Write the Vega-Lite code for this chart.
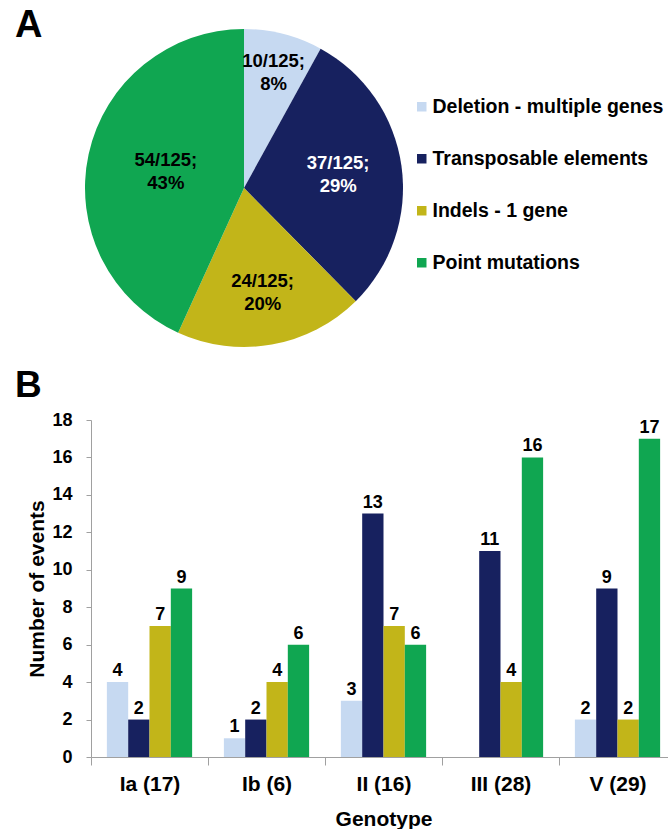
{
  "$schema": "https://vega.github.io/schema/vega-lite/v6.json",
  "padding": {"left": 15, "top": 7, "right": 0, "bottom": 0},
  "spacing": 20,
  "config": {
    "font": "Liberation Sans",
    "view": {"stroke": null},
    "title": {"font": "Liberation Sans", "fontWeight": "bold", "color": "black"},
    "axis": {"labelFont": "Liberation Sans", "titleFont": "Liberation Sans", "labelFontWeight": "bold", "titleFontWeight": "bold", "labelColor": "black", "titleColor": "black", "domainColor": "#A0A0A0", "tickColor": "#A0A0A0", "grid": false}
  },
  "datasets": {
    "pie": [
      {"type": "Deletion - multiple genes", "count": 10, "o": 1, "label": "10/125;\n8%"},
      {"type": "Transposable elements", "count": 37, "o": 2, "label": "37/125;\n29%"},
      {"type": "Indels - 1 gene", "count": 24, "o": 3, "label": "24/125;\n20%"},
      {"type": "Point mutations", "count": 54, "o": 4, "label": "54/125;\n43%"}
    ],
    "bars": [
      {"genotype": "Ia (17)", "type": "Deletion - multiple genes", "n": 4},
      {"genotype": "Ia (17)", "type": "Transposable elements", "n": 2},
      {"genotype": "Ia (17)", "type": "Indels - 1 gene", "n": 7},
      {"genotype": "Ia (17)", "type": "Point mutations", "n": 9},
      {"genotype": "Ib (6)", "type": "Deletion - multiple genes", "n": 1},
      {"genotype": "Ib (6)", "type": "Transposable elements", "n": 2},
      {"genotype": "Ib (6)", "type": "Indels - 1 gene", "n": 4},
      {"genotype": "Ib (6)", "type": "Point mutations", "n": 6},
      {"genotype": "II (16)", "type": "Deletion - multiple genes", "n": 3},
      {"genotype": "II (16)", "type": "Transposable elements", "n": 13},
      {"genotype": "II (16)", "type": "Indels - 1 gene", "n": 7},
      {"genotype": "II (16)", "type": "Point mutations", "n": 6},
      {"genotype": "III (28)", "type": "Deletion - multiple genes", "n": 0},
      {"genotype": "III (28)", "type": "Transposable elements", "n": 11},
      {"genotype": "III (28)", "type": "Indels - 1 gene", "n": 4},
      {"genotype": "III (28)", "type": "Point mutations", "n": 16},
      {"genotype": "V (29)", "type": "Deletion - multiple genes", "n": 2},
      {"genotype": "V (29)", "type": "Transposable elements", "n": 9},
      {"genotype": "V (29)", "type": "Indels - 1 gene", "n": 2},
      {"genotype": "V (29)", "type": "Point mutations", "n": 17}
    ]
  },
  "resolve": {"scale": {"color": "independent"}},
  "vconcat": [
    {
      "width": 306,
      "height": 318,
      "title": {"text": "A", "anchor": "start", "frame": "group", "dx": -76, "fontSize": 38, "offset": -46, "baseline": "alphabetic"},
      "data": {"name": "pie"},
      "layer": [
        {
          "mark": {"type": "arc", "outerRadius": 159},
          "encoding": {
            "theta": {"field": "count", "type": "quantitative", "stack": true},
            "order": {"field": "o", "type": "quantitative"},
            "color": {
              "field": "type", "type": "nominal",
              "scale": {"domain": ["Deletion - multiple genes", "Transposable elements", "Indels - 1 gene", "Point mutations"], "range": ["#C6D9F1", "#17215F", "#C2B519", "#10A651"]},
              "legend": {"title": null, "orient": "none", "legendX": 321, "legendY": 68, "padding": 0, "symbolType": "square", "symbolSize": 90, "symbolStrokeWidth": 0, "labelFont": "Liberation Sans", "labelFontWeight": "bold", "labelFontSize": 19.5, "labelColor": "black", "labelOffset": 1, "labelLimit": 400, "rowPadding": 31}
            }
          }
        },
        {
          "mark": {"type": "text", "dy": -11.5, "fontSize": 18.5, "fontWeight": "bold", "lineBreak": "\n", "lineHeight": 23, "baseline": "middle", "align": "center"},
          "encoding": {
            "theta": {"field": "count", "type": "quantitative", "stack": true},
            "radius": {"field": "count", "type": "quantitative", "scale": {"type": "linear", "zero": false, "domain": [10, 54], "range": [119, 80]}},
            "order": {"field": "o", "type": "quantitative"},
            "text": {"field": "label", "type": "nominal"},
            "color": {"condition": {"test": "datum.o === 2", "value": "white"}, "value": "black"}
          }
        }
      ]
    },
    {
      "width": 585,
      "height": 337,
      "title": {"text": "B", "anchor": "start", "frame": "group", "dx": -76, "fontSize": 37, "offset": -23, "baseline": "alphabetic"},
      "data": {"name": "bars"},
      "encoding": {
        "x": {"field": "genotype", "type": "nominal", "sort": null, "scale": {"paddingInner": 0, "paddingOuter": 0},
              "axis": {"labelAngle": 0, "labelFontSize": 21, "titleFontSize": 21, "tickBand": "extent", "tickSize": 8, "labelPadding": 8, "titlePadding": 14}, "title": "Genotype"},
        "xOffset": {"field": "type", "type": "nominal", "scale": {"domain": ["Deletion - multiple genes", "Transposable elements", "Indels - 1 gene", "Point mutations"], "paddingInner": 0, "paddingOuter": 0.745}},
        "y": {"field": "n", "type": "quantitative", "scale": {"domain": [0, 18]},
              "axis": {"values": [0, 2, 4, 6, 8, 10, 12, 14, 16, 18], "labelFontSize": 18, "titleFontSize": 21, "tickSize": 5, "labelPadding": 14, "titlePadding": 4}, "title": "Number of events"}
      },
      "layer": [
        {
          "mark": {"type": "bar"},
          "encoding": {
            "color": {"field": "type", "type": "nominal",
              "scale": {"domain": ["Deletion - multiple genes", "Transposable elements", "Indels - 1 gene", "Point mutations"], "range": ["#C6D9F1", "#17215F", "#C2B519", "#10A651"]},
              "legend": null}
          }
        },
        {
          "transform": [{"filter": "datum.n > 0"}],
          "mark": {"type": "text", "fontSize": 18, "fontWeight": "bold", "baseline": "alphabetic", "dy": -6, "color": "black"},
          "encoding": {"text": {"field": "n", "type": "quantitative"}}
        }
      ]
    }
  ]
}
